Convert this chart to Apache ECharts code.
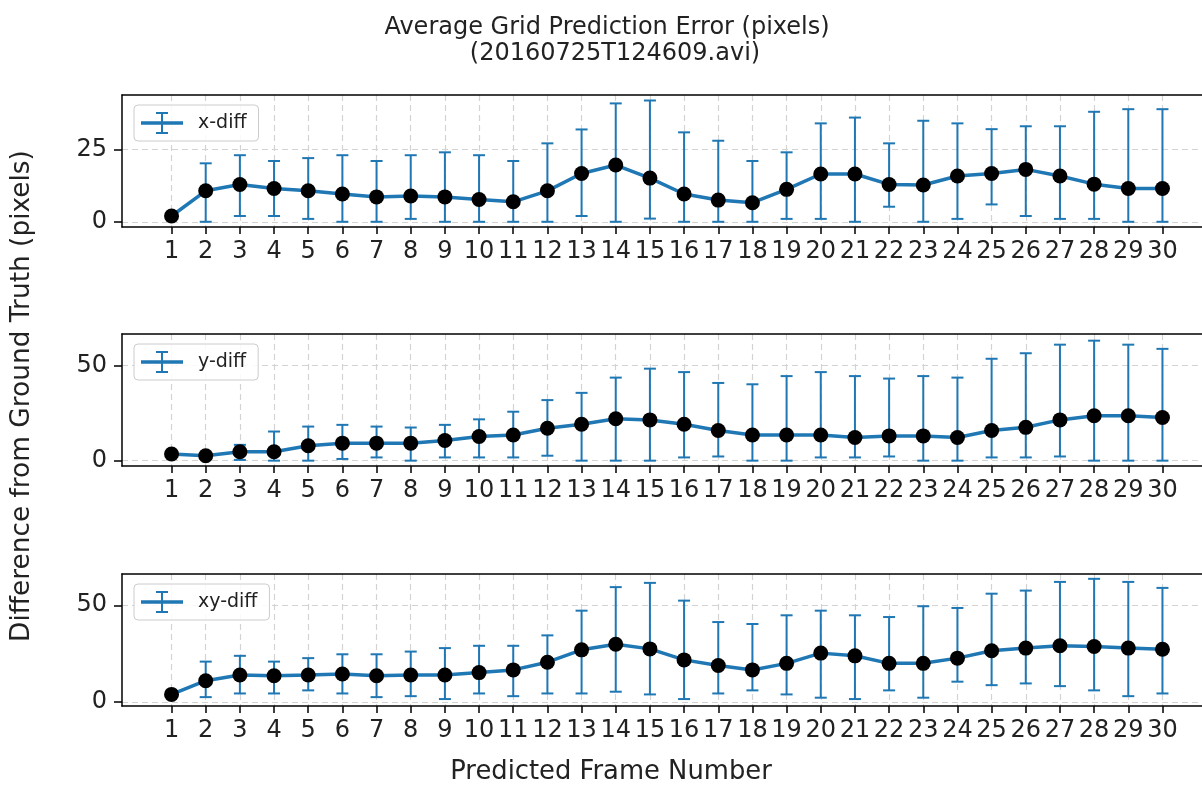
<!DOCTYPE html>
<html>
<head>
<meta charset="utf-8">
<title>Average Grid Prediction Error</title>
<script src="https://cdn.jsdelivr.net/npm/echarts@6/dist/echarts.min.js"></script>
<style>
    html, body { margin: 0; padding: 0; background: #fff; }
    #main { width: 1202px; height: 785px; }
</style>
</head>
<body>
<div id="main"></div>
<script>
var frames = [1, 2, 3, 4, 5, 6, 7, 8, 9, 10, 11, 12, 13, 14, 15, 16, 17, 18, 19, 20, 21, 22, 23, 24, 25, 26, 27, 28, 29, 30];

var xMean = [2.0, 10.7, 12.9, 11.5, 10.7, 9.6, 8.6, 8.9, 8.6, 7.7, 6.9, 10.7, 16.7, 19.6, 15.1, 9.6, 7.5, 6.6, 11.2, 16.5, 16.5, 12.9, 12.7, 15.8, 16.7, 18.1, 15.8, 13.0, 11.5, 11.5];
var xLow = [1.5, 0, 2.0, 2.0, 1.0, 0, 0, 1.0, 0, 0, 0, 0, 2.0, 0, 1.1, 0, 0, 0, 1.0, 1.0, 0, 5.2, 0, 1.0, 6.0, 2.0, 1.0, 1.0, 0, 0];
var xHigh = [2.5, 20.2, 23.0, 21.0, 22.0, 23.0, 21.0, 23.0, 24.0, 23.0, 21.0, 27.1, 31.9, 40.9, 41.9, 30.9, 28.0, 21.0, 24.0, 34.0, 36.0, 27.1, 34.9, 34.0, 32.0, 33.0, 33.0, 38.0, 38.9, 38.9];

var yMean = [3.5, 2.6, 4.7, 4.7, 7.8, 9.2, 9.2, 9.2, 10.6, 12.7, 13.5, 17.0, 19.1, 22.0, 21.4, 19.1, 15.8, 13.5, 13.5, 13.5, 12.2, 13.0, 13.0, 12.2, 15.8, 17.5, 21.4, 23.6, 23.6, 22.7];
var yLow = [2.8, 1.9, 0.4, 0, 0, 0.9, 1.7, 0, 1.7, 1.7, 1.7, 2.6, 0, 0, 0, 1.7, 2.2, 0, 0, 1.7, 1.7, 2.2, 0, 0, 1.7, 1.7, 2.2, 0, 0, 0];
var yHigh = [4.2, 3.3, 8.3, 15.3, 17.9, 18.8, 17.9, 17.4, 18.8, 21.7, 25.7, 31.8, 35.6, 43.6, 48.3, 46.5, 40.8, 40.1, 44.4, 46.5, 44.4, 43.1, 44.4, 43.6, 53.5, 56.4, 60.9, 63.0, 60.9, 58.7];

var xyMean = [3.8, 10.9, 13.9, 13.5, 13.9, 14.4, 13.5, 13.9, 13.9, 15.1, 16.5, 20.5, 26.9, 29.8, 27.4, 21.7, 18.8, 16.5, 19.9, 25.2, 23.8, 19.9, 19.9, 22.6, 26.4, 27.8, 29.0, 28.6, 27.8, 27.2];
var xyLow = [3.0, 2.4, 4.3, 4.3, 5.9, 4.3, 2.4, 2.9, 1.4, 4.3, 2.9, 4.3, 4.3, 5.2, 3.8, 1.4, 4.3, 5.9, 3.8, 2.1, 1.4, 5.9, 2.1, 10.4, 8.6, 9.5, 8.1, 5.9, 2.9, 4.3];
var xyHigh = [4.6, 20.8, 23.8, 20.8, 22.6, 24.6, 24.6, 26.0, 27.8, 29.0, 29.0, 34.4, 47.2, 59.4, 61.6, 52.4, 41.3, 40.3, 44.8, 47.2, 44.8, 43.9, 49.5, 48.6, 56.0, 57.6, 62.1, 63.7, 62.1, 59.0];

var seriesNames = ['x-diff', 'y-diff', 'xy-diff'];
var yTicks = [[0, 25], [0, 50], [0, 50]];

var FONT = 'DejaVu Sans';
var BLUE = '#1f77b4';
var gridTops = [95, 334, 574];
var yRanges = [[-1.8, 43.8], [-2.8, 66.5], [-2.2, 66.2]];
// legend handle: line with an error bar through it
var errIcon = 'path://M0,9.3H42V12.7H0Z M20,0H22V22H20Z M15,0H27V2H15Z M15,20H27V22H15Z';

var chart = echarts.init(document.getElementById('main'), null, {renderer: 'canvas'});

function spine() {
    return {show: true, onZero: false, lineStyle: {color: '#000', width: 1.5}};
}

function renderErrorBar(params, api) {
    var x = api.value(0);
    var lo = api.coord([x, api.value(1)]);
    var hi = api.coord([x, api.value(2)]);
    var w = 6;
    var style = {stroke: BLUE, lineWidth: 2};
    return {
        type: 'group',
        children: [
            {type: 'line', shape: {x1: lo[0], y1: lo[1], x2: hi[0], y2: hi[1]}, style: style},
            {type: 'line', shape: {x1: lo[0] - w, y1: lo[1], x2: lo[0] + w, y2: lo[1]}, style: style},
            {type: 'line', shape: {x1: hi[0] - w, y1: hi[1], x2: hi[0] + w, y2: hi[1]}, style: style}
        ]
    };
}

var means = [xMean, yMean, xyMean];
var lows = [xLow, yLow, xyLow];
var highs = [xHigh, yHigh, xyHigh];

var grids = [], xAxes = [], yAxes = [], series = [], legends = [];
for (var i = 0; i < 3; i++) {
    // right edge runs past the canvas, as in the cropped original
    grids.push({
        left: 122,
        top: gridTops[i],
        width: 1090,
        height: 132,
        outerBoundsMode: 'none',
        show: false
    });
    xAxes.push({
        type: 'value',
        gridIndex: i,
        position: 'bottom',
        min: -0.45,
        max: 31.45,
        axisLine: spine(),
        axisTick: {
            show: true,
            length: 7,
            customValues: frames,
            lineStyle: {color: '#000', width: 1.5}
        },
        axisLabel: {
            customValues: frames,
            fontSize: 24,
            fontFamily: FONT,
            color: '#222',
            margin: 13
        },
        splitLine: {
            show: true,
            lineStyle: {color: '#d3d3d3', width: 1.2, type: [6, 4]}
        }
    });
    yAxes.push({
        type: 'value',
        gridIndex: i,
        min: yRanges[i][0],
        max: yRanges[i][1],
        axisLine: spine(),
        axisTick: {
            show: true,
            length: 8,
            customValues: yTicks[i],
            lineStyle: {color: '#000', width: 1.5}
        },
        axisLabel: {
            customValues: yTicks[i],
            fontSize: 24,
            fontFamily: FONT,
            color: '#222',
            margin: 15
        },
        splitLine: {
            show: true,
            lineStyle: {color: '#d3d3d3', width: 1.2, type: [6, 4]}
        }
    });

    var barData = [], lineData = [];
    for (var j = 0; j < frames.length; j++) {
        barData.push([frames[j], lows[i][j], highs[i][j]]);
        lineData.push([frames[j], means[i][j]]);
    }
    series.push({
        name: seriesNames[i],
        type: 'custom',
        xAxisIndex: i,
        yAxisIndex: i,
        renderItem: renderErrorBar,
        itemStyle: {color: BLUE},
        encode: {x: 0, y: [1, 2]},
        data: barData,
        z: 2
    });
    series.push({
        name: seriesNames[i] + ' mean',
        type: 'line',
        xAxisIndex: i,
        yAxisIndex: i,
        symbol: 'circle',
        symbolSize: 15,
        itemStyle: {color: '#000'},
        lineStyle: {color: BLUE, width: 3.5},
        data: lineData,
        z: 3
    });
    legends.push({
        left: 134,
        top: gridTops[i] + 10,
        orient: 'horizontal',
        padding: [7, 12, 7, 7],
        itemWidth: 42,
        itemHeight: 22,
        backgroundColor: 'rgba(255,255,255,0.85)',
        borderColor: '#cccccc',
        borderWidth: 1,
        borderRadius: 4,
        selectedMode: false,
        data: [{name: seriesNames[i], icon: errIcon, itemStyle: {color: BLUE}}],
        textStyle: {fontSize: 19, fontFamily: FONT, color: '#222', padding: [0, 0, 0, 10]}
    });
}
// top spines: bare axes along the top of each panel
for (var k = 0; k < 3; k++) {
    xAxes.push({
        type: 'value',
        gridIndex: k,
        position: 'top',
        min: -0.45,
        max: 31.45,
        axisLine: spine(),
        axisTick: {show: false},
        axisLabel: {show: false},
        splitLine: {show: false}
    });
}

var option = {
    animation: false,
    backgroundColor: '#fff',
    grid: grids,
    xAxis: xAxes,
    yAxis: yAxes,
    legend: legends,
    series: series,
    graphic: [
        {
            type: 'text', x: 607, y: 28,
            style: {text: 'Average Grid Prediction Error (pixels)', font: '24px "DejaVu Sans"', fill: '#222', textAlign: 'center', textVerticalAlign: 'middle'}
        },
        {
            type: 'text', x: 615, y: 54,
            style: {text: '(20160725T124609.avi)', font: '24px "DejaVu Sans"', fill: '#222', textAlign: 'center', textVerticalAlign: 'middle'}
        },
        {
            type: 'text', x: 22, y: 396, rotation: Math.PI / 2,
            style: {text: 'Difference from Ground Truth (pixels)', font: '26.4px "DejaVu Sans"', fill: '#222', textAlign: 'center', textVerticalAlign: 'middle'}
        },
        {
            type: 'text', x: 611, y: 772,
            style: {text: 'Predicted Frame Number', font: '25.8px "DejaVu Sans"', fill: '#222', textAlign: 'center', textVerticalAlign: 'middle'}
        }
    ]
};
chart.setOption(option);
</script>
</body>
</html>
